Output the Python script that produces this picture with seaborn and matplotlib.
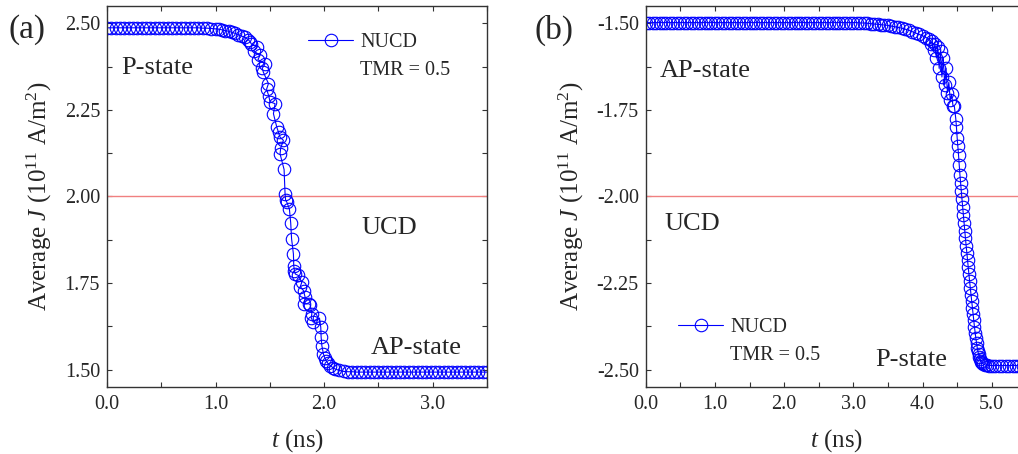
import glob
import matplotlib
matplotlib.use("Agg")
import matplotlib.pyplot as plt
import matplotlib.ticker as mticker
from matplotlib import font_manager
import seaborn as sns

# (a) NUCD, P -> AP switching
t_a = [0.00, 0.04, 0.08, 0.12, 0.16, 0.20, 0.24, 0.28, 0.32, 0.36, 0.40, 0.44, 0.48,
       0.52, 0.56, 0.60, 0.64, 0.68, 0.72, 0.76, 0.80, 0.84, 0.88, 0.92, 0.96, 1.00,
       1.03, 1.06, 1.09, 1.12, 1.15, 1.18, 1.21, 1.24, 1.27, 1.30,
       1.318, 1.33, 1.38, 1.35, 1.41, 1.39, 1.456, 1.43, 1.44, 1.487, 1.47, 1.49,
       1.502, 1.548, 1.533, 1.564, 1.58, 1.594, 1.625, 1.60, 1.594, 1.631, 1.64,
       1.645, 1.656, 1.68, 1.692, 1.70, 1.717, 1.72, 1.726, 1.735, 1.763, 1.794,
       1.78, 1.81, 1.825, 1.816, 1.86, 1.871, 1.887, 1.88, 1.90, 1.957, 1.969,
       1.972, 1.979, 1.994, 2.005, 2.018, 2.035, 2.055, 2.08, 2.10, 2.14, 2.18,
       2.22, 2.26, 2.30, 2.34, 2.38, 2.42, 2.46, 2.50, 2.54, 2.58, 2.62, 2.66, 2.70,
       2.74, 2.78, 2.82, 2.86, 2.90, 2.94, 2.98, 3.02, 3.06, 3.10, 3.14, 3.18, 3.22,
       3.26, 3.30, 3.34, 3.38, 3.42, 3.46, 3.50]
J_a = [2.487, 2.487, 2.487, 2.487, 2.487, 2.487, 2.487, 2.487, 2.487, 2.487, 2.487, 2.487, 2.487,
       2.487, 2.487, 2.487, 2.487, 2.487, 2.487, 2.487, 2.487, 2.487, 2.486, 2.486, 2.485, 2.484,
       2.483, 2.481, 2.479, 2.477, 2.474, 2.471, 2.467, 2.463, 2.460, 2.453,
       2.447, 2.440, 2.432, 2.420, 2.408, 2.395, 2.383, 2.370, 2.359, 2.326, 2.310, 2.290,
       2.273, 2.268, 2.239, 2.200, 2.185, 2.171, 2.162, 2.140, 2.123, 2.078, 2.008,
       1.990, 1.984, 1.964, 1.924, 1.878, 1.834, 1.800, 1.786, 1.776, 1.772, 1.752,
       1.740, 1.728, 1.709, 1.690, 1.690, 1.688, 1.661, 1.650, 1.637, 1.649, 1.622,
       1.595, 1.569, 1.545, 1.535, 1.526, 1.518, 1.512, 1.506, 1.502, 1.498, 1.495,
       1.494, 1.494, 1.493, 1.493, 1.493, 1.493, 1.493, 1.493, 1.493, 1.493, 1.493, 1.493, 1.493,
       1.493, 1.493, 1.493, 1.493, 1.493, 1.493, 1.493, 1.493, 1.493, 1.493, 1.493, 1.493, 1.493,
       1.493, 1.493, 1.493, 1.493, 1.493, 1.493, 1.493]

# (b) NUCD, AP -> P switching
t_b = [0.00, 0.05, 0.10, 0.15, 0.20, 0.25, 0.30, 0.35, 0.40, 0.45, 0.50, 0.55, 0.60,
       0.65, 0.70, 0.75, 0.80, 0.85, 0.90, 0.95, 1.00, 1.05, 1.10, 1.15, 1.20, 1.25,
       1.30, 1.35, 1.40, 1.45, 1.50, 1.55, 1.60, 1.65, 1.70, 1.75, 1.80, 1.85, 1.90,
       1.95, 2.00, 2.05, 2.10, 2.15, 2.20, 2.25, 2.30, 2.35, 2.40, 2.45, 2.50, 2.55,
       2.60, 2.65, 2.70, 2.75, 2.80, 2.85, 2.90, 2.95, 3.00,
       3.05, 3.10, 3.15, 3.20, 3.25, 3.30, 3.35, 3.40, 3.45, 3.50, 3.55, 3.60, 3.65,
       3.70, 3.75, 3.80, 3.85, 3.90, 3.95, 4.00, 4.05,
       4.10, 4.12, 4.14, 4.16, 4.18, 4.20, 4.22, 4.24, 4.26, 4.28, 4.30, 4.32, 4.34,
       4.36, 4.38, 4.40, 4.42, 4.44, 4.46,
       4.48, 4.49, 4.50, 4.51, 4.52, 4.53, 4.54, 4.55, 4.56, 4.57, 4.58, 4.59, 4.60,
       4.61, 4.62, 4.63, 4.64, 4.65, 4.66, 4.67, 4.68, 4.69, 4.70, 4.71, 4.72, 4.73,
       4.74, 4.75, 4.76, 4.77, 4.78, 4.79, 4.80, 4.81, 4.82, 4.83, 4.84, 4.85, 4.86,
       4.88, 4.90, 4.93, 4.96,
       5.00, 5.05, 5.10, 5.15, 5.20, 5.25, 5.30, 5.35, 5.40, 5.45, 5.50]
J_b = [-1.498, -1.498, -1.498, -1.498, -1.498, -1.498, -1.498, -1.498, -1.498, -1.498, -1.498, -1.498, -1.498,
       -1.498, -1.498, -1.498, -1.498, -1.498, -1.498, -1.498, -1.498, -1.498, -1.498, -1.498, -1.498, -1.498,
       -1.498, -1.498, -1.498, -1.498, -1.498, -1.498, -1.498, -1.498, -1.498, -1.498, -1.498, -1.498, -1.498,
       -1.498, -1.498, -1.498, -1.498, -1.498, -1.498, -1.498, -1.498, -1.498, -1.498, -1.498, -1.498, -1.498,
       -1.498, -1.498, -1.498, -1.498, -1.498, -1.498, -1.498, -1.498, -1.498,
       -1.498, -1.499, -1.499, -1.500, -1.501, -1.502, -1.503, -1.504, -1.505, -1.506, -1.508, -1.510, -1.512,
       -1.514, -1.517, -1.520, -1.524, -1.528, -1.532, -1.536, -1.541,
       -1.546, -1.560, -1.552, -1.578, -1.560, -1.600, -1.568, -1.630, -1.580, -1.655, -1.600, -1.678, -1.630,
       -1.700, -1.670, -1.722, -1.705, -1.738, -1.740,
       -1.775, -1.800, -1.830, -1.855, -1.880, -1.910, -1.937, -1.962, -1.985, -2.008, -2.031, -2.054, -2.077,
       -2.099, -2.121, -2.142, -2.163, -2.184, -2.205, -2.225, -2.245, -2.264, -2.283, -2.302, -2.321, -2.340,
       -2.358, -2.376, -2.393, -2.409, -2.423, -2.436, -2.447, -2.456, -2.463, -2.469, -2.474, -2.478, -2.481,
       -2.484, -2.486, -2.487, -2.488,
       -2.488, -2.488, -2.488, -2.488, -2.488, -2.488, -2.488, -2.488, -2.488, -2.488, -2.488]

ucd_a = 2.0
ucd_b = -2.0

# make sure the Times-like serif is registered
for path in glob.glob("/usr/share/fonts/**/LiberationSerif*.ttf", recursive=True):
    font_manager.fontManager.addfont(path)

sns.set_style("ticks")
plt.rcParams["font.family"] = "serif"
plt.rcParams["font.serif"] = ["Liberation Serif", "Times New Roman", "DejaVu Serif"]
plt.rcParams["mathtext.fontset"] = "custom"
plt.rcParams["mathtext.rm"] = "Liberation Serif"
plt.rcParams["mathtext.it"] = "Liberation Serif:italic"
plt.rcParams["axes.unicode_minus"] = False

fig = plt.figure(figsize=(10.18, 4.54), dpi=100)
ax_a = fig.add_axes([0.1051, 0.1476, 0.3733, 0.8392])
ax_b = fig.add_axes([0.6343, 0.1476, 0.3739, 0.8392])

line_kws = dict(color="blue", marker="o", markersize=9, markerfacecolor="none",
                markeredgecolor="blue", markeredgewidth=0.8, linewidth=0.8)

sns.lineplot(x=t_a, y=J_a, ax=ax_a, sort=False, estimator=None, label="NUCD", **line_kws)
sns.lineplot(x=t_b, y=J_b, ax=ax_b, sort=False, estimator=None, label="NUCD", **line_kws)

ax_a.axhline(ucd_a, color="#f08080", lw=1, zorder=1)
ax_b.axhline(ucd_b, color="#f08080", lw=1, zorder=1)

ax_a.set_xlim(0, 3.5)
ax_a.set_ylim(1.45, 2.55)
ax_b.set_xlim(0, 5.5)
ax_b.set_ylim(-2.55, -1.45)

for ax in (ax_a, ax_b):
    ax.xaxis.set_major_locator(mticker.MultipleLocator(1.0))
    ax.xaxis.set_minor_locator(mticker.MultipleLocator(0.5))
    ax.xaxis.set_major_formatter(mticker.FormatStrFormatter("%.1f"))
    ax.yaxis.set_major_locator(mticker.MultipleLocator(0.25))
    ax.yaxis.set_minor_locator(mticker.MultipleLocator(0.125))
    ax.yaxis.set_major_formatter(mticker.FormatStrFormatter("%.2f"))
    ax.tick_params(which="both", direction="in", top=True, right=True,
                   length=3.5, width=0.8, color="#333333")
    ax.tick_params(axis="x", labelsize=14.5, pad=6)
    ax.tick_params(axis="y", labelsize=14.5, pad=5)
    for s in ax.spines.values():
        s.set_color("#333333")
        s.set_linewidth(1.0)
    ax.set_xlabel("$t$ (ns)", fontsize=18)
    ax.set_ylabel("Average $J$ (10$^{11}$ A/m$^2$)", fontsize=18)

ax_a.xaxis.set_label_coords(0.5, -0.105)
ax_b.xaxis.set_label_coords(0.5, -0.105)
ax_a.yaxis.set_label_coords(-0.140, 0.5)
ax_b.yaxis.set_label_coords(-0.158, 0.5)

# legends
ax_a.legend(loc="center left", bbox_to_anchor=(0.529, 0.903), frameon=False, fontsize=14.5,
            handlelength=2.25, handletextpad=0.35, borderpad=0, borderaxespad=0)
ax_a.text(0.666, 0.819, "TMR = 0.5", transform=ax_a.transAxes, fontsize=14.5, va="baseline")
ax_b.legend(loc="center left", bbox_to_anchor=(0.085, 0.155), frameon=False, fontsize=14.5,
            handlelength=2.25, handletextpad=0.35, borderpad=0, borderaxespad=0)
ax_b.text(0.221, 0.071, "TMR = 0.5", transform=ax_b.transAxes, fontsize=14.5, va="baseline")

# state annotations
ax_a.text(0.135, 2.353, "P-state", fontsize=19, va="baseline")
ax_a.text(2.347, 1.893, "UCD", fontsize=19, va="baseline")
ax_a.text(2.433, 1.546, "AP-state", fontsize=19, va="baseline")
ax_b.text(0.197, -1.655, "AP-state", fontsize=19, va="baseline")
ax_b.text(0.264, -2.098, "UCD", fontsize=19, va="baseline")
ax_b.text(3.313, -2.488, "P-state", fontsize=19, va="baseline")

fig.text(0.008, 0.934, "(a)", fontsize=24, va="center")
fig.text(0.525, 0.934, "(b)", fontsize=24, va="center")

fig.savefig("out.png", dpi=100)
